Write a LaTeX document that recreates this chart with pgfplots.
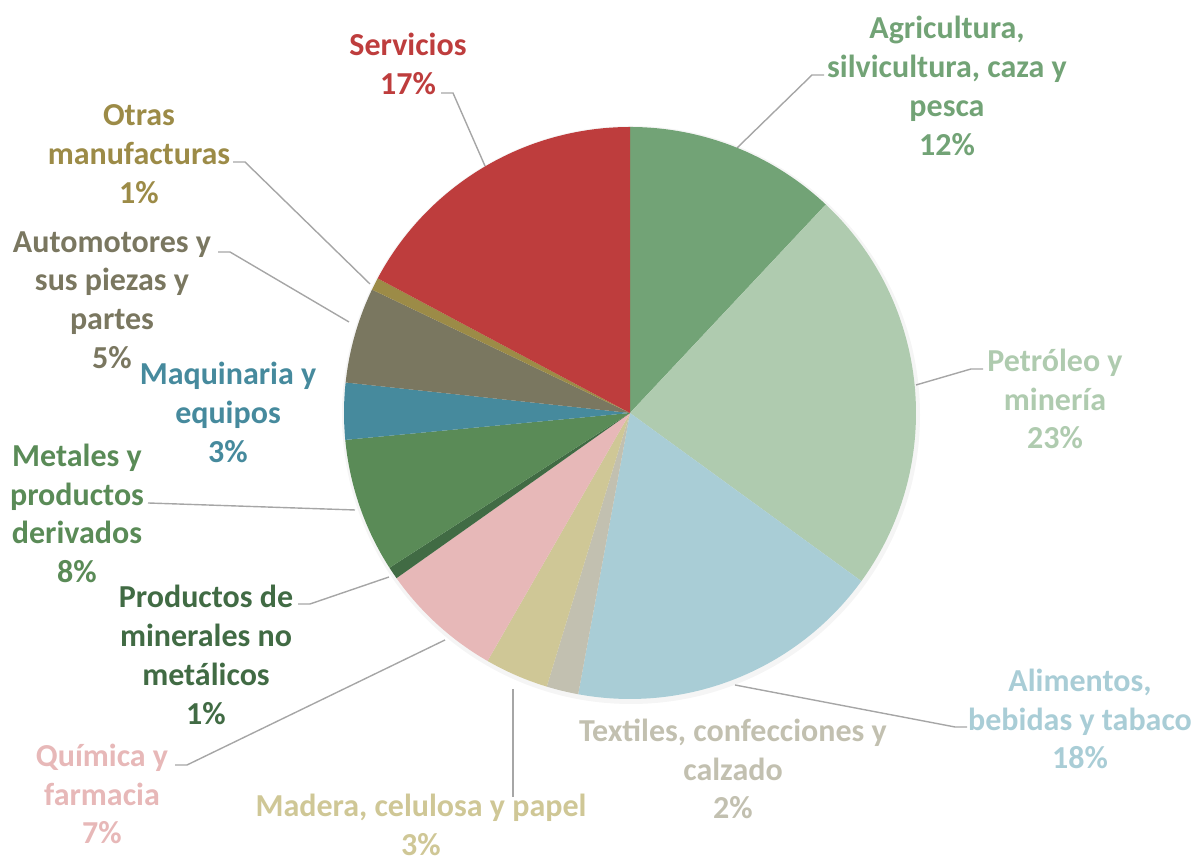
\documentclass[border=0pt]{standalone}
\usepackage{pgfplots}
\pgfplotsset{compat=1.18}
\usepackage{fontspec}
\setmainfont{Carlito}
\definecolor{cAgr}{HTML}{72A376}
\definecolor{cPet}{HTML}{AFCBAF}
\definecolor{cAli}{HTML}{A9CDD6}
\definecolor{cTex}{HTML}{C2C0B0}
\definecolor{cMad}{HTML}{CFC796}
\definecolor{cQui}{HTML}{E7B8B8}
\definecolor{cMin}{HTML}{416B44}
\definecolor{cMet}{HTML}{5A8B57}
\definecolor{cMaq}{HTML}{468A9D}
\definecolor{cAut}{HTML}{7A7760}
\definecolor{cOtr}{HTML}{9C8B47}
\definecolor{cSer}{HTML}{BE3D3D}
\definecolor{lead}{HTML}{A6A6A6}
\newcommand\lf{\fontsize{16}{19.4}\selectfont\bfseries}
\begin{document}
\begin{tikzpicture}
\useasboundingbox (0,0) rectangle (597.5pt,430pt);
\begin{axis}[x=0.5pt,y=0.5pt,xmin=0,xmax=1195,ymin=0,ymax=860,
  hide axis,clip=false,anchor=origin,at={(0,0)}]
% leader lines
\addplot[lead,line width=0.7pt,no marks] coordinates {(441,767) (453,767) (485,694)};
\addplot[lead,line width=0.7pt,no marks] coordinates {(737,712) (812,785) (824,785)};
\addplot[lead,line width=0.7pt,no marks] coordinates {(916,475) (971,491) (983,491)};
\addplot[lead,line width=0.7pt,no marks] coordinates {(735,175) (955,133) (967,133)};
\addplot[lead,line width=0.7pt,no marks] coordinates {(513,171) (513,63)};
\addplot[lead,line width=0.7pt,no marks] coordinates {(445,220) (187,95) (175,95)};
\addplot[lead,line width=0.7pt,no marks] coordinates {(389,283) (310,256) (298,256)};
\addplot[lead,line width=0.7pt,no marks] coordinates {(355,350) (148,357)};
\addplot[lead,line width=0.7pt,no marks] coordinates {(349,538) (230,608) (218,608)};
\addplot[lead,line width=0.7pt,no marks] coordinates {(370,576) (245,698) (233,698)};
% shadow
\fill[black,opacity=0.04] (axis cs:631,445) circle[radius=144.5pt];
% pie slices (percent shares, clockwise from the top)
\gdef\cum{0}
\foreach \v/\c in {12.0/cAgr,23.0/cPet,17.9/cAli,1.8/cTex,3.6/cMad,6.9/cQui,0.7/cMin,7.6/cMet,3.2/cMaq,5.4/cAut,0.7/cOtr,17.2/cSer}{
  \pgfmathsetmacro\s{90-3.6*\cum}
  \pgfmathsetmacro\e{90-3.6*(\cum+\v)}
  \pgfmathsetmacro\px{630+286*cos(\s)}
  \pgfmathsetmacro\py{447+286*sin(\s)}
  \edef\temp{\noexpand\fill[\c] (axis cs:630,447) -- (axis cs:\px,\py) arc[start angle=\s, end angle=\e, radius=143pt] -- cycle;}
  \temp
  \pgfmathsetmacro\nc{\cum+\v}
  \global\let\cum\nc
}
% labels
\node[align=center,text=cSer,font=\lf] at (axis cs:408,796) {Servicios\\17\%};
\node[align=center,text=cAgr,font=\lf] at (axis cs:947,774) {Agricultura,\\silvicultura, caza y\\pesca\\12\%};
\node[align=center,text=cPet,font=\lf] at (axis cs:1055,461) {Petróleo y\\minería\\23\%};
\node[align=center,text=cAli,font=\lf] at (axis cs:1080,141) {Alimentos,\\bebidas y tabaco\\18\%};
\node[align=center,text=cTex,font=\lf] at (axis cs:733,91) {Textiles, confecciones y\\calzado\\2\%};
\node[align=center,text=cMad,font=\lf] at (axis cs:421,35) {Madera, celulosa y papel\\3\%};
\node[align=center,text=cQui,font=\lf] at (axis cs:102,66) {Química y\\farmacia\\7\%};
\node[align=center,text=cMin,font=\lf] at (axis cs:206,205) {Productos de\\minerales no\\metálicos\\1\%};
\node[align=center,text=cMet,font=\lf] at (axis cs:77,346.5) {Metales y\\productos\\derivados\\8\%};
\node[align=center,text=cMaq,font=\lf] at (axis cs:228,447.5) {Maquinaria y\\equipos\\3\%};
\node[align=center,text=cAut,font=\lf] at (axis cs:112,560) {Automotores y\\sus piezas y\\partes\\5\%};
\node[align=center,text=cOtr,font=\lf] at (axis cs:139,706) {Otras\\manufacturas\\1\%};
\end{axis}
\end{tikzpicture}
\end{document}
